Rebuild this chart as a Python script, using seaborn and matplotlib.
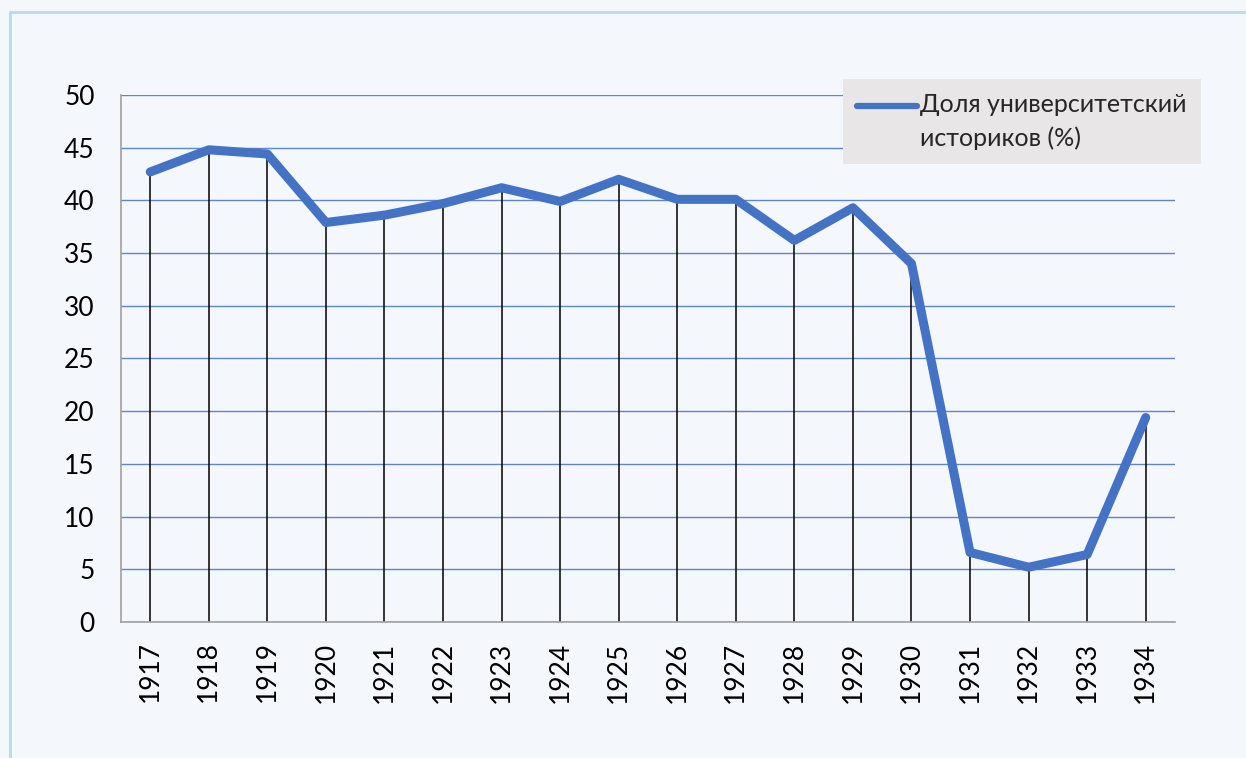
import seaborn as sns
import pandas as pd
import matplotlib.pyplot as plt
from matplotlib.lines import Line2D

years = ['1917', '1918', '1919', '1920', '1921', '1922', '1923', '1924', '1925',
         '1926', '1927', '1928', '1929', '1930', '1931', '1932', '1933', '1934']
share = [42.7, 44.8, 44.4, 37.9, 38.6, 39.7, 41.2, 39.9, 42.0,
         40.1, 40.1, 36.2, 39.3, 34.0, 6.6, 5.2, 6.4, 19.4]
label = 'Доля университетский\nисториков (%)'

df = pd.DataFrame({'year': years, 'share': share})
df['pos'] = range(len(df))

bg = '#F4F7FC'
blue = '#4472C4'

sns.set_theme(style='white')
plt.rcParams['font.family'] = ['Lato', 'DejaVu Sans']

fig = plt.figure(figsize=(12.46, 7.58), dpi=100, facecolor=bg)
ax = fig.add_axes([0.0971, 0.1794, 0.8459, 0.6953])
ax.set_facecolor(bg)

# рамка вокруг всей картинки (видны только верх и лево)
fig.add_artist(Line2D([0.0077, 0.0077], [0, 0.984], transform=fig.transFigure, color='#BDD7EE', lw=2))
fig.add_artist(Line2D([0.0077, 1], [0.984, 0.984], transform=fig.transFigure, color='#BDD7EE', lw=2))

# вертикальные линии от точки до оси
ax.vlines(df['pos'], 0, df['share'], color='black', lw=1.1, zorder=2)

sns.lineplot(data=df, x='pos', y='share', color=blue, lw=6.5, ax=ax,
             solid_capstyle='round', solid_joinstyle='round', zorder=3, label=label)

ax.set_xlim(-0.5, len(df) - 0.5)
ax.set_ylim(0, 50)
ax.set_yticks(range(0, 51, 5))
ax.set_xticks(df['pos'])
ax.set_xticklabels(df['year'], rotation=90)
ax.tick_params(axis='both', labelsize=19, colors='black', length=0)
ax.tick_params(axis='x', pad=14)
ax.grid(axis='y', color='#4472C4', lw=1, alpha=0.85)
ax.set_axisbelow(True)
ax.set_xlabel('')
ax.set_ylabel('')

for s in ['top', 'right']:
    ax.spines[s].set_visible(False)
ax.spines['left'].set_color('#A0A0A0')
ax.spines['bottom'].set_color('#A0A0A0')
ax.spines['left'].set_linewidth(1.2)
ax.spines['bottom'].set_linewidth(1.2)

# y ticks: маленькие засечки слева
ax.tick_params(axis='y', length=7, width=1.2, color='#A0A0A0', pad=12)

leg = ax.legend(loc='upper left', bbox_to_anchor=(0.685, 1.03), fontsize=18,
                frameon=True, fancybox=False, facecolor='#E8E6E6', edgecolor='#E8E6E6',
                framealpha=1, handlelength=2.4, handletextpad=0.15, borderpad=0.55,
                borderaxespad=0)
for t in leg.get_texts():
    t.set_linespacing(1.55)
# линия легенды на уровне первой строки
for h in leg.get_lines():
    h.set_linewidth(4.5)
    y = h.get_ydata()
    h.set_ydata([v + 12 for v in y])
leg.get_frame().set_linewidth(0)

fig.savefig('out.png', dpi=100, facecolor=bg)
